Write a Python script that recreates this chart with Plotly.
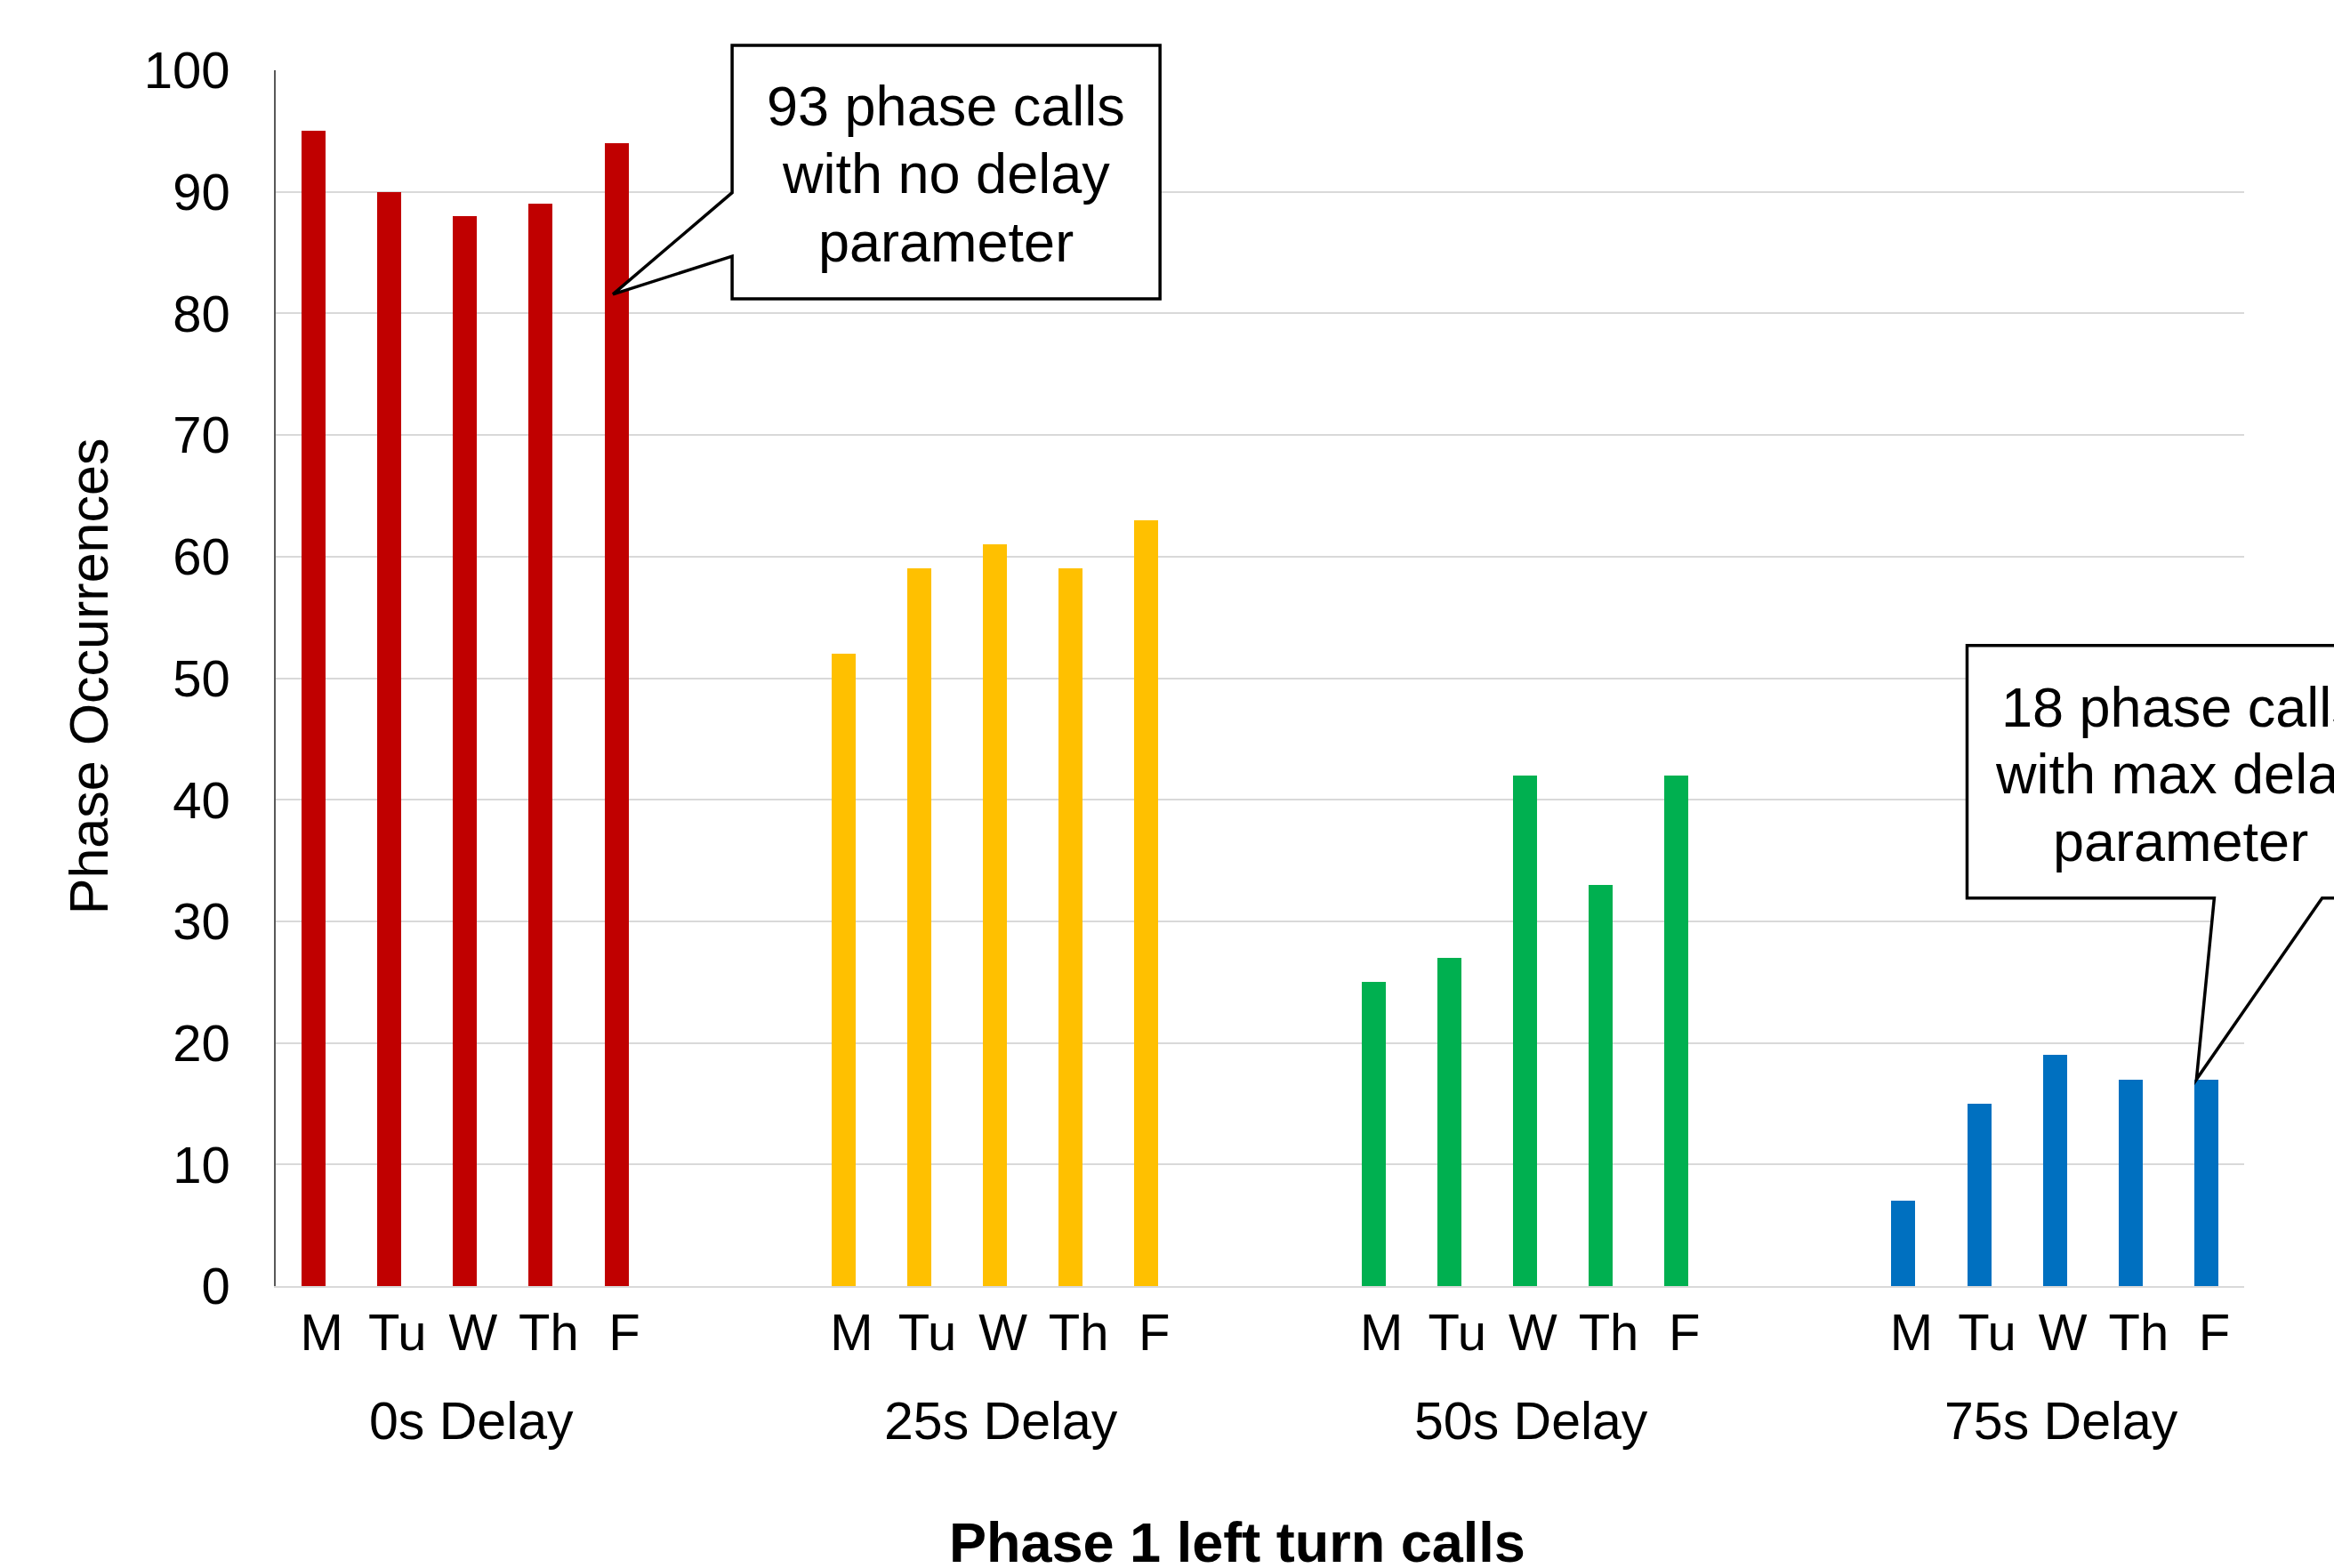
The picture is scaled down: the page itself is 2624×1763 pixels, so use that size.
import plotly.graph_objects as go

# ---- data -------------------------------------------------------------
days = ["M", "Tu", "W", "Th", "F"]
groups = ["0s Delay", "25s Delay", "50s Delay", "75s Delay"]
delay_0s = [95, 90, 88, 89, 94]
delay_25s = [52, 59, 61, 59, 63]
delay_50s = [25, 27, 42, 33, 42]
delay_75s = [7, 15, 19, 17, 17]
group_colors = ["#C00000", "#FFC000", "#00B050", "#0070C0"]
y_ticks = list(range(0, 101, 10))

series = [delay_0s, delay_25s, delay_50s, delay_75s]

# ---- layout constants -------------------------------------------------
W, H = 2624, 1763
FONT = "Arial, Liberation Sans, sans-serif"
SLOT_GAP = 2                       # empty category slots between groups
STEP = len(days) + SLOT_GAP
N_SLOTS = len(groups) * len(days) + (len(groups) - 1) * SLOT_GAP
X_RANGE = [-0.5, N_SLOTS - 0.5]
Y_RANGE = [0, 100]


def xp(slot):
    """category-slot position -> paper fraction"""
    return (slot - X_RANGE[0]) / (X_RANGE[1] - X_RANGE[0])


def yp(v):
    """value -> paper fraction"""
    return (v - Y_RANGE[0]) / (Y_RANGE[1] - Y_RANGE[0])


fig = go.Figure()

tick_pos, tick_txt = [], []
for g, (vals, col) in enumerate(zip(series, group_colors)):
    xs = [g * STEP + d for d in range(len(days))]
    tick_pos += xs
    tick_txt += days
    fig.add_trace(go.Bar(
        x=xs, y=vals, width=0.317, marker=dict(color=col, line=dict(width=0)),
        name=groups[g], showlegend=False,
    ))

# group labels under the day labels
annotations = []
for g, name in enumerate(groups):
    annotations.append(dict(
        x=g * STEP + (len(days) - 1) / 2, xref="x", y=-0.1112, yref="paper",
        text=name, showarrow=False, xanchor="center", yanchor="middle",
        xshift=7, font=dict(family=FONT, size=59, color="#000000"),
    ))

# axis titles
annotations.append(dict(
    x=-0.0951, y=0.5013, xref="paper", yref="paper", text="Phase Occurrences",
    textangle=-90, showarrow=False, xanchor="center", yanchor="middle",
    font=dict(family=FONT, size=61, color="#000000"),
))
annotations.append(dict(
    x=0.4883, y=-0.211, xref="paper", yref="paper",
    text="<b>Phase 1 left turn calls</b>", showarrow=False,
    xanchor="center", yanchor="middle",
    font=dict(family=FONT, size=63, color="#000000"),
))

# ---- callouts -----------------------------------------------------------
def callout_path(points):
    pts = [f"{xp(x):.5f},{yp(y):.5f}" for x, y in points]
    return "M " + " L ".join(pts) + " Z"


# callout pointing at the Friday bar of the 0s group
c1_left, c1_right, c1_top, c1_bot = 5.528, 11.18, 102.05, 81.2
c1_tip = (3.954, 81.57)
c1_pts = [(c1_left, c1_top), (c1_right, c1_top), (c1_right, c1_bot),
          (c1_left, c1_bot), (c1_left, 84.7), c1_tip, (c1_left, 89.93)]
c1_lines = ["93 phase calls", "with no delay", "parameter"]
c1_text_y = [97.1, 91.5, 85.9]

# callout pointing at the Friday bar of the 75s group
tip_slot = 3 * STEP + 4
c2_left, c2_right, c2_top, c2_bot = 21.84, 27.49, 52.69, 31.92
c2_tip = (tip_slot - 0.13, delay_75s[4])
c2_pts = [(c2_left, c2_top), (c2_right, c2_top), (c2_right, c2_bot),
          (26.53, c2_bot), c2_tip, (25.105, c2_bot), (c2_left, c2_bot)]
c2_lines = ["18 phase calls", "with max delay", "parameter"]
c2_text_y = [47.63, 42.1, 36.58]

shapes = []
for pts in (c1_pts, c2_pts):
    shapes.append(dict(
        type="path", xref="paper", yref="paper", path=callout_path(pts),
        fillcolor="#FFFFFF", line=dict(color="#000000", width=3.5), layer="above",
    ))

for lines, ys, cx in ((c1_lines, c1_text_y, (c1_left + c1_right) / 2),
                      (c2_lines, c2_text_y, (c2_left + c2_right) / 2)):
    for txt, yy in zip(lines, ys):
        annotations.append(dict(
            x=xp(cx), y=yp(yy), xref="paper", yref="paper", text=txt,
            showarrow=False, xanchor="center", yanchor="middle",
            font=dict(family=FONT, size=63, color="#000000"),
        ))

fig.update_layout(
    template="none",
    width=W, height=H,
    margin=dict(l=310, r=101, t=79, b=317, pad=0),
    paper_bgcolor="#FFFFFF", plot_bgcolor="#FFFFFF",
    font=dict(family=FONT, color="#000000"),
    bargap=0,
    showlegend=False,
    xaxis=dict(
        range=X_RANGE, tickmode="array", tickvals=tick_pos, ticktext=tick_txt,
        showgrid=False, zeroline=False, ticks="", automargin=False,
        showline=True, linecolor="#D9D9D9", linewidth=2,
        tickfont=dict(family=FONT, size=58, color="#000000"),
        ticklabelstandoff=0, ticklabelshift=9,
    ),
    yaxis=dict(
        range=Y_RANGE, tickmode="array", tickvals=y_ticks,
        ticktext=[str(v) for v in y_ticks],
        showgrid=True, gridcolor="#D9D9D9", gridwidth=2,
        zeroline=False, ticks="", automargin=False,
        showline=True, linecolor="#595959", linewidth=1.5,
        tickfont=dict(family=FONT, size=58, color="#000000"),
        ticklabelstandoff=38,
    ),
    shapes=shapes,
    annotations=annotations,
)

fig.write_html("out.html")
